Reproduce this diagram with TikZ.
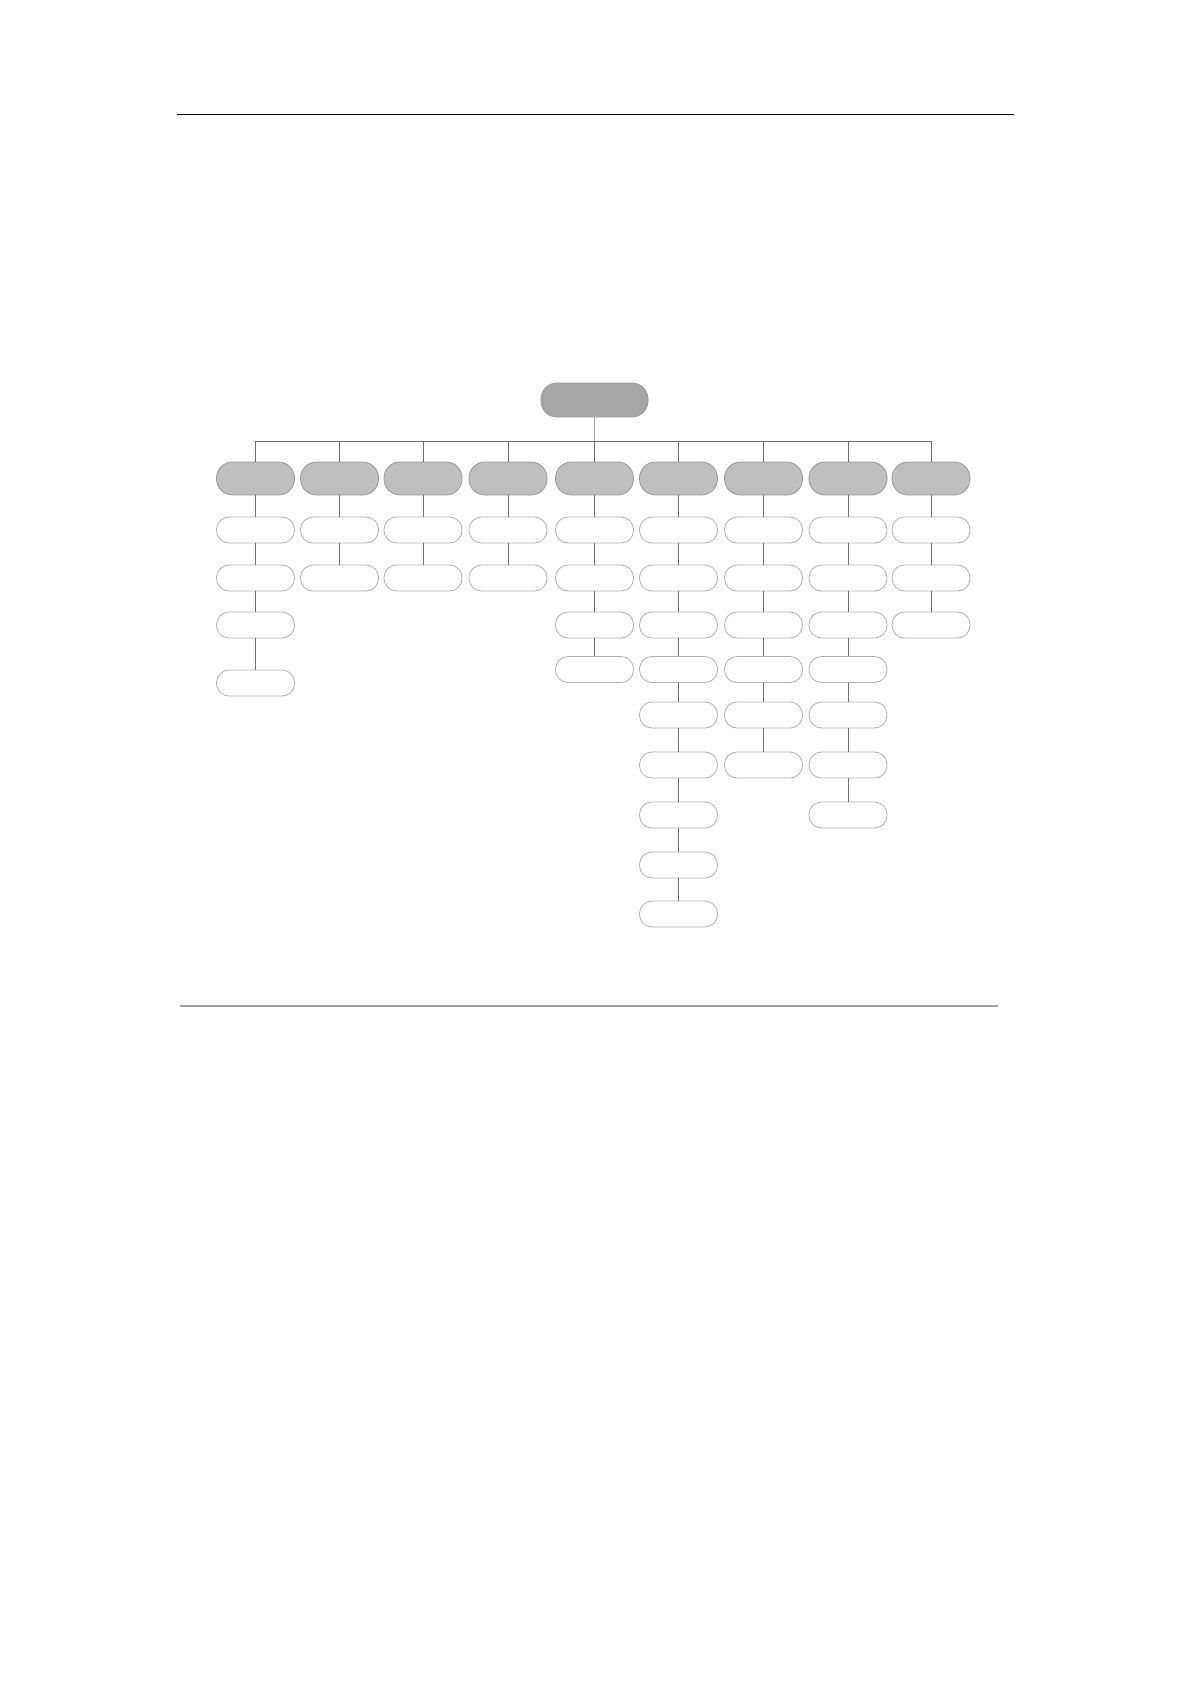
\documentclass[tikz,border=0pt]{standalone}
\definecolor{rootfill}{HTML}{A6A6A6}
\definecolor{headfill}{HTML}{BFBFBF}
\definecolor{headline}{HTML}{999999}
\definecolor{leafline}{HTML}{B0B0B0}
\definecolor{connline}{HTML}{6E6E6E}
\definecolor{ruleline}{HTML}{A0A0A0}
\begin{document}
\begin{tikzpicture}[x=1pt,y=-1pt,
  rootbox/.style={draw=headline,fill=rootfill,line width=0.8pt,minimum width=107pt,minimum height=34pt,rounded corners=16pt,inner sep=0pt},
  headbox/.style={draw=headline,fill=headfill,line width=0.8pt,minimum width=78pt,minimum height=33pt,rounded corners=16pt,inner sep=0pt},
  leafbox/.style={draw=leafline,fill=white,line width=0.8pt,minimum width=78pt,minimum height=26pt,rounded corners=12.5pt,inner sep=0pt},
  conn/.style={draw=connline,line width=0.9pt}]
\useasboundingbox (0,0) rectangle (1191,1684);
\fill[white] (0,0) rectangle (1191,1684);
% page rules
\coordinate (topL) at (177,114.5);
\coordinate (topR) at (1014,114.5);
\draw[black,line width=1.2pt] (topL) -- (topR);
\coordinate (botL) at (180,1006);
\coordinate (botR) at (998,1006);
\draw[ruleline,line width=2pt] (botL) -- (botR);
% root
\node[rootbox] (root) at (594.5,400) {};
\coordinate (busL) at (255.5,441);
\coordinate (busR) at (931,441);
\draw[conn] (busL) -- (busR);
\draw[conn,draw=connline!60] (root.south) -- (root.south |- busL);
\foreach \c/\x/\n in {1/255.5/4,2/339.5/2,3/423/2,4/508/2,5/594.5/4,6/678.5/9,7/763.5/6,8/848/7,9/931/3}{
  \node[headbox] (h\c) at (\x,478.5) {};
  \draw[conn] (h\c.north) -- (h\c.north |- busL);
  \foreach \r in {1,...,\n}{
    \pgfmathsetmacro\yy{{530,578,625,669.5,715,765,815,865,914}[\r-1]}
    \ifnum\c=1 \ifnum\r=4 \def\yy{683}\fi\fi
    \node[leafbox] (n-\c-\r) at (\x,\yy) {};
    \pgfmathtruncatemacro\pr{\r-1}
    \ifnum\r=1
      \draw[conn] (h\c.south) -- (n-\c-1.north);
    \else
      \draw[conn] (n-\c-\pr.south) -- (n-\c-\r.north);
    \fi
  }
}
\end{tikzpicture}
\end{document}
